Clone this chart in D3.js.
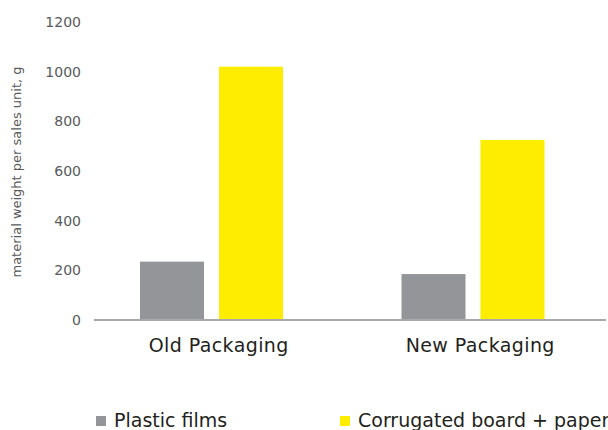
<!DOCTYPE html>
<html><head><meta charset="utf-8">
<script src="https://cdn.jsdelivr.net/npm/d3@7"></script>
<style>body{margin:0;background:#fff;} svg{display:block;font-family:"DejaVu Sans",sans-serif;}</style>
</head><body>
<script>
const categories = ["Old Packaging", "New Packaging"];
const seriesNames = ["Plastic films", "Corrugated board + paper"];
const plasticFilms = [235, 185];
const corrugatedBoard = [1020, 725];
const yTicks = [0, 200, 400, 600, 800, 1000, 1200];
const yTitle = "material weight per sales unit, g";
const colors = ["#939598", "#FFED00"];

const W = 608, H = 430;
const svg = d3.select("body").append("svg").attr("width", W).attr("height", H);

const y = d3.scaleLinear().domain([0, 1200]).range([320, 22]);
const x0 = d3.scaleBand().domain(categories).range([81, 604]);
const x1 = d3.scaleBand().domain(seriesNames).range([59, 202]).paddingInner(15 / 79);

const data = categories.map((c, i) => ({cat: c, vals: [plasticFilms[i], corrugatedBoard[i]]}));

// y axis labels
const yAxis = d3.axisLeft(y).tickValues(yTicks).tickFormat(d3.format("d")).tickSize(0).tickPadding(0);
const gy = svg.append("g").attr("transform", "translate(81,0)").call(yAxis);
gy.select(".domain").remove();
gy.selectAll("text").attr("fill", "#58595b").style("font-size", "14px").style("font-family", "DejaVu Sans,sans-serif");

// bars
const g = svg.append("g");
data.forEach(d => {
  g.selectAll(null).data(d.vals.map((v, j) => ({k: seriesNames[j], v, j}))).enter()
    .append("rect")
    .attr("x", e => x0(d.cat) + x1(e.k))
    .attr("y", e => y(e.v))
    .attr("width", x1.bandwidth())
    .attr("height", e => y(0) - y(e.v))
    .attr("fill", e => colors[e.j]);
});

// x axis line
svg.append("line").attr("x1", 94).attr("x2", 606).attr("y1", y(0)).attr("y2", y(0))
  .attr("stroke", "#a7a9ac").attr("stroke-width", 2);

// category labels
svg.selectAll(".cat").data(categories).enter().append("text")
  .attr("x", c => x0(c) + x0.bandwidth() / 2 + 7)
  .attr("y", 352)
  .attr("text-anchor", "middle")
  .attr("fill", "#231f20")
  .style("font-size", "19px")
  .style("letter-spacing", "0.4px")
  .text(c => c);

// y title
svg.append("text")
  .attr("transform", "translate(21,172) rotate(-90)")
  .attr("text-anchor", "middle")
  .attr("fill", "#58595b")
  .style("font-size", "13px")
  .text(yTitle);

// legend
const legX = [96, 340];
const leg = svg.selectAll(".leg").data(seriesNames).enter().append("g")
  .attr("transform", (d, i) => `translate(${legX[i]},0)`);
leg.append("rect").attr("x", 0).attr("y", 416).attr("width", 10).attr("height", 10)
  .attr("fill", (d, i) => colors[i]);
leg.append("text").attr("x", 18).attr("y", 427).attr("fill", "#231f20")
  .style("font-size", "19px").text(d => d);
</script>
</body></html>
